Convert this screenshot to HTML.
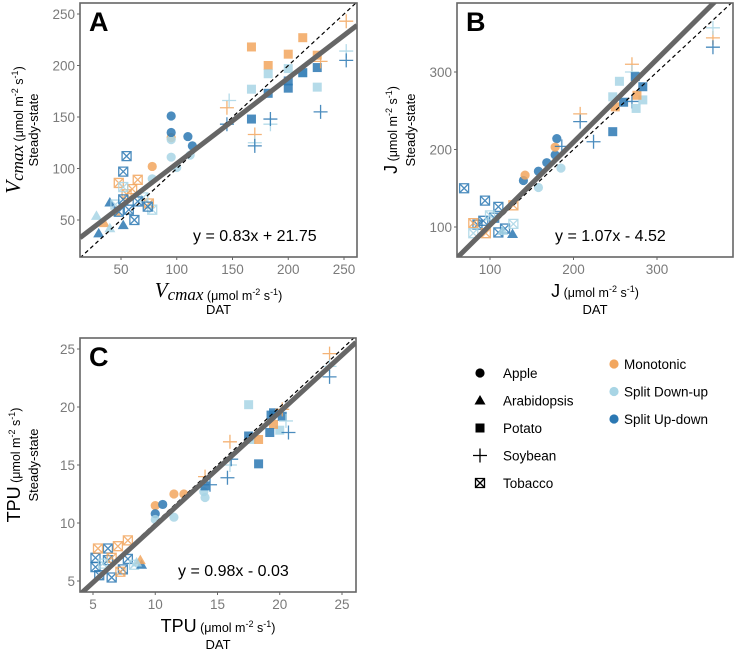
<!DOCTYPE html>
<html><head><meta charset="utf-8"><style>
body{margin:0;background:#fff;}
svg{display:block;font-family:"Liberation Sans",sans-serif;}
</style></head><body>
<svg id="s" width="734" height="650" viewBox="0 0 734 650"></svg>
<script>
// ---- data: [x, y, species, group] ; species: A=Apple R=Arabidopsis P=Potato S=Soybean T=Tobacco ; group: m=Monotonic d=Split Down-up u=Split Up-down
const dataA=[[167,218,'P','m'],[182,200,'P','m'],[200,211,'P','m'],[213,227,'P','m'],[226,210,'P','m'],
[167,177,'P','d'],[182,192,'P','d'],[200,197,'P','d'],[226,179,'P','d'],[213,193,'P','d'],
[167,148,'P','u'],[182,173,'P','u'],[200,178,'P','u'],[200,185,'P','u'],[213,193,'P','u'],[226,198,'P','u'],
[145,159,'S','m'],[170,133,'S','m'],[252,243,'S','m'],[229,204,'S','m'],
[147,166,'S','d'],[170,125,'S','d'],[184,143,'S','d'],[252,214,'S','d'],
[145,143,'S','u'],[170,122,'S','u'],[184,148,'S','u'],[229,155,'S','u'],[252,205,'S','u'],
[95,130,'A','m'],[78,102,'A','m'],
[95,128,'A','d'],[95,111,'A','d'],[100,101,'A','d'],[112,113,'A','d'],[78,90,'A','d'],
[95,151,'A','u'],[95,135,'A','u'],[110,131,'A','u'],[114,122,'A','u'],
[35,47,'R','m'],[45,58,'R','m'],[28,54,'R','d'],[40,42,'R','d'],[30,37,'R','u'],[40,67,'R','u'],[52,45,'R','u'],
[48,86,'T','m'],[65,89,'T','m'],[60,80,'T','m'],[75,66,'T','m'],[55,75,'T','m'],
[52,82,'T','d'],[78,60,'T','d'],[70,72,'T','d'],[45,65,'T','d'],
[55,112,'T','u'],[52,97,'T','u'],[52,70,'T','u'],[62,50,'T','u'],[57,60,'T','u'],[65,68,'T','u'],[74,63,'T','u'],[48,58,'T','u']];
const dataB=[[69,150,'T','u'],[94,134,'T','u'],[110,126,'T','u'],[105,112,'T','u'],[92,108,'T','u'],[85,103,'T','u'],[110,93,'T','u'],[118,98,'T','u'],
[128,128,'T','m'],[80,105,'T','m'],[95,92,'T','m'],[128,104,'T','d'],[80,92,'T','d'],[100,115,'T','d'],
[127,91,'R','u'],[115,95,'R','d'],
[140,160,'A','u'],[158,172,'A','u'],[168,183,'A','u'],[178,193,'A','u'],[180,214,'A','u'],[142,167,'A','m'],[178,203,'A','m'],[158,151,'A','d'],[185,176,'A','d'],
[208,246,'S','m'],[270,310,'S','m'],[367,344,'S','m'],[270,300,'S','d'],[367,357,'S','d'],
[208,236,'S','u'],[224,210,'S','u'],[186,204,'S','u'],[270,262,'S','u'],[367,332,'S','u'],
[247,268,'P','d'],[255,288,'P','d'],[275,253,'P','d'],[283,264,'P','d'],[276,270,'P','m'],[250,255,'P','m'],
[247,223,'P','u'],[260,261,'P','u'],[274,294,'P','u'],[283,281,'P','u']];
const dataC=[[5.2,7,'T','u'],[5.2,6.2,'T','u'],[6.2,7.8,'T','u'],[6.2,6.8,'T','u'],[6.5,5.3,'T','u'],[7.4,6,'T','u'],[7.8,6.9,'T','u'],[5.5,5.5,'T','u'],
[5.4,7.8,'T','m'],[7.0,8.0,'T','m'],[7.8,8.5,'T','m'],[6.5,7.0,'T','m'],[7.2,5.8,'T','m'],[5.8,6.5,'T','d'],[8.3,6.4,'T','d'],
[8.9,6.4,'R','u'],[8.8,6.8,'R','m'],[8.5,6.6,'R','d'],
[10,11.5,'A','m'],[11.5,12.5,'A','m'],[12.3,12.5,'A','m'],[10,10.8,'A','u'],[10.6,11.6,'A','u'],
[10,10.3,'A','d'],[11.5,10.5,'A','d'],[14,12.2,'A','d'],[13.9,12.7,'A','d'],
[17.5,20.2,'P','d'],[20,18,'P','d'],[17.7,17.2,'P','d'],[18.3,17.2,'P','m'],[19.5,18.5,'P','m'],
[17.5,17.5,'P','u'],[18.3,15.1,'P','u'],[19.2,17.8,'P','u'],[19.3,19.3,'P','u'],[19.5,19.5,'P','u'],[20.2,19.2,'P','u'],[14,13.2,'P','u'],
[16,17,'S','m'],[24,24.6,'S','m'],[20.2,19.8,'S','m'],[14,14,'S','m'],[16,15,'S','d'],[20.5,18.8,'S','d'],[24,23.5,'S','d'],
[15.8,13.9,'S','u'],[20.7,17.8,'S','u'],[24,22.6,'S','u'],[14.4,13.3,'S','u'],[16.1,15.5,'S','u']];
const ticksA=[50,100,150,200,250];
const ticksB=[100,200,300];
const ticksC=[5,10,15,20,25];
const fitA=[0.83,21.75], fitB=[1.07,-4.52], fitC=[0.98,-0.03];
const eqA="y = 0.83x + 21.75", eqB="y = 1.07x - 4.52", eqC="y = 0.98x - 0.03";

const COL={m:'#f2a65e',d:'#a8d5e5',u:'#2b78b3'};
const NS='http://www.w3.org/2000/svg';
const svg=document.getElementById('s');
function el(tag,attrs,parent){const e=document.createElementNS(NS,tag);for(const k in attrs)e.setAttribute(k,attrs[k]);(parent||svg).appendChild(e);return e;}

function marker(g,sp,cx,cy,col,op){
  let m;
  if(sp==='A'){m=el('circle',{cx,cy,r:4.6,fill:col,'fill-opacity':op},g);}
  else if(sp==='R'){m=el('polygon',{points:`${cx},${cy-5.5} ${cx-5.5},${cy+4} ${cx+5.5},${cy+4}`,fill:col,'fill-opacity':op},g);}
  else if(sp==='P'){m=el('rect',{x:cx-4.5,y:cy-4.5,width:9,height:9,fill:col,'fill-opacity':op},g);}
  else if(sp==='S'){m=el('path',{d:`M${cx-7},${cy}H${cx+7}M${cx},${cy-7}V${cy+7}`,stroke:col,'stroke-width':1.3,'stroke-opacity':op,fill:'none'},g);}
  else {m=el('path',{d:`M${cx-4.5},${cy-4.5}h9v9h-9zM${cx-4.5},${cy-4.5}l9,9M${cx+4.5},${cy-4.5}l-9,9`,stroke:col,'stroke-width':1.3,'stroke-opacity':op,fill:'none'},g);}
  return m;
}

function panel(o){
  const g=el('g',{});
  
  
  const X=v=>o.px0+(v-o.vx0)*o.kx, Y=v=>o.py0-(v-o.vy0)*o.ky;
  const x0v=o.vx0+(o.L-o.px0)/o.kx, x1v=o.vx0+(o.R-o.px0)/o.kx;
  const clipId='clip'+o.letter;
  const cp=el('clipPath',{id:clipId},g); el('rect',{x:o.L,y:o.T,width:o.R-o.L,height:o.B-o.T},cp);
  const pg=el('g',{'clip-path':`url(#${clipId})`},g);
  o.data.forEach(d=>{
    const m=marker(pg,d[2],X(d[0]),Y(d[1]),COL[d[3]],0.85);
    
    
  });
  const one=el('line',{x1:X(x0v),y1:Y(x0v),x2:X(x1v),y2:Y(x1v),stroke:'#000','stroke-width':1.2,'stroke-dasharray':'4,3'},pg);
  
  
  const f=el('line',{x1:X(x0v),y1:Y(o.fit[0]*x0v+o.fit[1]),x2:X(x1v),y2:Y(o.fit[0]*x1v+o.fit[1]),stroke:'#666','stroke-width':5},pg);
  
  
  const fr=el('rect',{x:o.L,y:o.T,width:o.R-o.L,height:o.B-o.T,fill:'none',stroke:'#666','stroke-width':1.6},g);
  
  
  o.xt.forEach(t=>{
    const x=X(t);
    el('line',{x1:x,y1:o.B,x2:x,y2:o.B+3,stroke:'#666'},g);
    const tx=el('text',{x,y:o.B+17,'text-anchor':'middle','font-size':13.5,fill:'#7a7a7a'},g);tx.textContent=t;
    
    
  });
  o.yt.forEach(t=>{
    const y=Y(t);
    el('line',{x1:o.L-3,y1:y,x2:o.L,y2:y,stroke:'#666'},g);
    const tx=el('text',{x:o.L-5,y:y+5,'text-anchor':'end','font-size':13.5,fill:'#7a7a7a'},g);tx.textContent=t;
    
    
  });
  const lt=el('text',{x:o.L+9,y:o.T+28,'font-size':27,'font-weight':'bold',fill:'#000'},g);lt.textContent=o.letter;
  
  
  const eq=el('text',{x:o.eqx,y:o.B-16,'font-size':16,fill:'#000'},g);eq.textContent=o.eq;
  
  
  // x title
  const cx=(o.L+o.R)/2;
  const xt=el('text',{x:cx,y:o.B+40,'text-anchor':'middle',fill:'#000'},g);
  
  
  xt.innerHTML=o.titleHTML;
  const dt=el('text',{x:cx,y:o.B+57,'text-anchor':'middle','font-size':13,fill:'#000'},g);dt.textContent='DAT';
  
  
  const cy=(o.T+o.B)/2;
  const yt=el('text',{x:0,y:0,'text-anchor':'middle',transform:`translate(${o.L-60},${cy}) rotate(-90)`,fill:'#000'},g);
  
  
  yt.innerHTML=o.titleHTML;
  const ys=el('text',{x:0,y:0,'text-anchor':'middle','font-size':13,transform:`translate(${o.L-42},${cy}) rotate(-90)`,fill:'#000'},g);ys.textContent='Steady-state';
  
  
}
const unit='<tspan font-size="12.5"> (μmol m</tspan><tspan font-size="9" dy="-5">-2</tspan><tspan font-size="12.5" dy="5"> s</tspan><tspan font-size="9" dy="-5">-1</tspan><tspan font-size="12.5" dy="5">)</tspan>';
panel({name:'panel-a-vcmax',letter:'A',data:dataA,fit:fitA,eq:eqA,xt:ticksA,yt:ticksA,L:80,R:357,T:3,B:257,px0:121,vx0:50,kx:1.115,py0:220,vy0:50,ky:1.03,eqx:193,
 titleHTML:'<tspan font-family="Liberation Serif" font-style="italic" font-size="21">V</tspan><tspan font-family="Liberation Serif" font-style="italic" font-size="17" dy="3">cmax</tspan><tspan dy="-3"></tspan>'+unit});
panel({name:'panel-b-j',letter:'B',data:dataB,fit:fitB,eq:eqB,xt:ticksB,yt:ticksB,L:457,R:733,T:3,B:257,px0:490,vx0:100,kx:0.835,py0:227,vy0:100,ky:0.775,eqx:555,
 titleHTML:'<tspan font-size="18">J</tspan>'+unit});
panel({name:'panel-c-tpu',letter:'C',data:dataC,fit:fitC,eq:eqC,xt:ticksC,yt:ticksC,L:80,R:356,T:338,B:592,px0:93,vx0:5,kx:12.45,py0:581,vy0:5,ky:11.6,eqx:178,
 titleHTML:'<tspan font-size="18">TPU</tspan>'+unit});

// legends
const species=[['A','Apple'],['R','Arabidopsis'],['P','Potato'],['S','Soybean'],['T','Tobacco']];
const groups=[['m','Monotonic'],['d','Split Down-up'],['u','Split Up-down']];
const lg=el('g',{});


species.forEach((s,i)=>{
  const y=373+i*27.5;
  marker(lg,s[0],480,y,'#000',1);
  const t=el('text',{x:503,y:y+5,'font-size':13.5,fill:'#000'},lg);t.textContent=s[1];
  
  
});
const lg2=el('g',{});


groups.forEach((s,i)=>{
  const y=364+i*27.5;
  el('circle',{cx:614,cy:y,r:4.6,fill:COL[s[0]]},lg2);
  const t=el('text',{x:624,y:y+5,'font-size':13.5,fill:'#000'},lg2);t.textContent=s[1];
  
  
});
</script>
</body></html>
